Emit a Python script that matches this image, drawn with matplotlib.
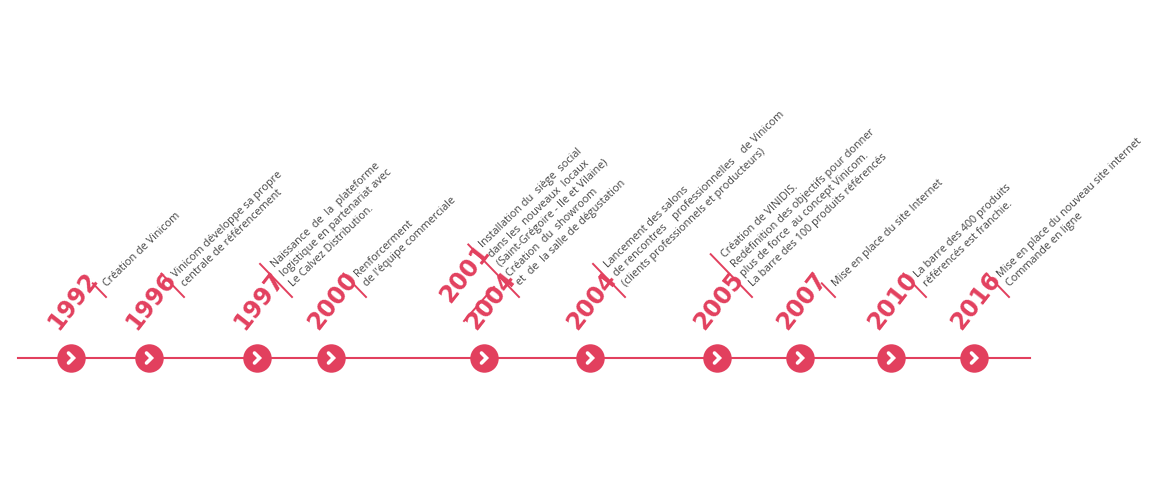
import matplotlib
matplotlib.use("Agg")
import matplotlib.pyplot as plt
import numpy as np

years = ["1992", "1996", "1997", "2000", "2001/2004", "2004", "2005", "2007", "2010", "2016"]
xpos = [71, 149, 257, 331, 484, 590, 717, 800, 891, 974]
texts = [
    "Création de Vinicom",
    "Vinicom développe sa propre\ncentrale de référencement",
    "Naissance  de  la  plateforme\nlogistique en partenariat avec\nLe Calvez Distribution.",
    "Renforcerment\nde l'équipe commerciale",
    "Installation du  siège  social\ndans les  nouveaux  locaux\n(Saint-Grégoire - Ile et Vilaine)\nCréation  du  showroom\net  de  la salle de dégustation",
    "Lancement des salons\nde rencontres    professionnelles    de Vinicom\n(clients professionnels et producteurs)",
    "Création de VINIDIS.\nRedéfinition des objectifs pour donner\nplus de force  au concept Vinicom.\nLa barre des 100 produits référencés",
    "Mise en place du site Internet",
    "La barre des 400 produits\nréférencés est franchie.",
    "Mise en place du nouveau site internet\nCommande en ligne",
]

RED = "#e2405e"
fig = plt.figure(figsize=(11.7, 5), dpi=100)
ax = fig.add_axes([0, 0, 1, 1])
ax.set_xlim(0, 1170)
ax.set_ylim(500, 0)
ax.axis("off")

ly = 358
ax.plot([18, 1030], [ly, ly], color=RED, lw=1.5, zorder=1)
ax.scatter(xpos, [ly] * len(xpos), s=420, color=RED, zorder=2, linewidths=0)
for cx in xpos:
    ax.plot([cx - 2.5, cx + 2.5, cx - 2.5], [ly - 5, ly, ly + 5], color="white",
            lw=2.6, solid_capstyle="round", solid_joinstyle="miter", zorder=3)

th = np.deg2rad(44)
d = np.array([np.sin(th), np.cos(th)])   # down-right direction (screen)
yfont = dict(family=["Liberation Sans Narrow", "DejaVu Sans"], weight="bold", color=RED,
             fontsize=17, rotation=52, rotation_mode="anchor", ha="left", va="baseline")

for cx, yr, txt in zip(xpos, years, texts):
    n = txt.count("\n") + 1
    bot = np.array([cx + 35, 297.0])
    L = 19 + 13.5 * (n - 1)
    top = bot - d * L
    ax.plot([top[0], bot[0]], [top[1], bot[1]], color=RED, lw=1.4)
    ax.text(top[0] + 9, top[1] - 2, txt, rotation=44, rotation_mode="anchor",
            ha="left", va="top", fontsize=7.8, color="#444444", linespacing=1.28,
            family="Open Sans")
    if "/" in yr:
        a, b = yr.split("/")
        ax.text(cx - 34, 304, a, **yfont)
        ax.text(cx - 8, 331, b, **yfont)
        ax.plot([cx - 20, cx + 10], [321, 287], color=RED, lw=1.4)
    else:
        ax.text(cx - 13, 331, yr, **yfont)

fig.savefig("out.png", dpi=100, facecolor="white")
